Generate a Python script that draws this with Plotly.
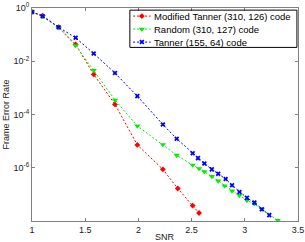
import plotly.graph_objects as go

# Modified Tanner (310,126)
snr_mod = [1.0, 1.10, 1.25, 1.41, 1.58, 1.78, 1.99, 2.23, 2.37, 2.51, 2.57]
fer_mod = [7.1e-1, 5.2e-1, 1.9e-1, 4.3e-2, 3.2e-3, 2.4e-4, 7.2e-6, 8.7e-7, 1.66e-7, 3.8e-8, 2.0e-8]

# Random (310,127)
snr_rnd = [1.0, 1.10, 1.25, 1.41, 1.58, 1.78, 1.99, 2.23, 2.36, 2.51, 2.57, 2.62, 2.69, 2.75,
           2.81, 2.88, 2.95, 3.02, 3.09, 3.16, 3.31]
fer_rnd = [7.1e-1, 4.8e-1, 1.85e-1, 3.9e-2, 4.5e-3, 3.5e-4, 3.7e-5, 7.4e-6, 2.95e-6, 1.26e-6,
           9.3e-7, 7.1e-7, 4.7e-7, 3.2e-7, 2.1e-7, 1.35e-7, 9.1e-8, 5.9e-8, 4.4e-8, 2.8e-8, 1.05e-8]

# Tanner (155,64)
snr_tan = [1.0, 1.10, 1.25, 1.41, 1.58, 1.78, 1.99, 2.23, 2.36, 2.51, 2.56, 2.62, 2.69, 2.75,
           2.82, 2.88, 2.95, 3.02, 3.09, 3.16, 3.23]
fer_tan = [7.1e-1, 4.9e-1, 1.9e-1, 7.6e-2, 1.95e-2, 3.6e-3, 4.9e-4, 4.2e-5, 1.23e-5, 3.5e-6,
           2.3e-6, 1.45e-6, 8.7e-7, 5.9e-7, 3.8e-7, 2.2e-7, 1.23e-7, 7.4e-8, 4.9e-8, 2.75e-8, 1.66e-8]

names = ["Modified Tanner (310, 126) code", "Random (310, 127) code", "Tanner (155, 64) code"]
colors = ["#ff0000", "#00ee00", "#0000ff"]
symbols = ["diamond", "triangle-down", "x"]
msizes = [4.5, 5.5, 4.5]
xtick_vals = [1, 1.5, 2, 2.5, 3, 3.5]
ytick_vals = [1, 1e-2, 1e-4, 1e-6]
ytick_text = ["10<sup>0</sup>", "10<sup>-2</sup>", "10<sup>-4</sup>", "10<sup>-6</sup>"]

FONT = "Liberation Sans"
DASH = "2px,2px"
fig = go.Figure()
series = [(snr_mod, fer_mod), (snr_rnd, fer_rnd), (snr_tan, fer_tan)]
for (xs, ys), nm, c, s, ms in zip(series, names, colors, symbols, msizes):
    fig.add_trace(go.Scatter(x=xs, y=ys, name=nm, mode="lines+markers", showlegend=False,
                             line=dict(color=c, width=1, dash=DASH),
                             marker=dict(symbol=s, size=ms, color=c)))

# custom compact legend (matlab style) on an overlay axis in [0,1] units
leg_rows = [0.962, 0.901, 0.840]
lx0, lx1, ltext = 0.380, 0.446, 0.452
for i, (nm, c, s, ms) in enumerate(zip(names, colors, symbols, msizes)):
    fig.add_trace(go.Scatter(x=[lx0, lx1], y=[leg_rows[i]] * 2, mode="lines", showlegend=False,
                             xaxis="x2", yaxis="y2", hoverinfo="skip",
                             line=dict(color=c, width=1, dash=DASH)))
    fig.add_trace(go.Scatter(x=[(lx0 + lx1) / 2], y=[leg_rows[i]], mode="markers", showlegend=False,
                             xaxis="x2", yaxis="y2", hoverinfo="skip",
                             marker=dict(symbol=s, size=ms, color=c)))
    fig.add_annotation(x=ltext, y=leg_rows[i], xref="paper", yref="paper", text=nm,
                       showarrow=False, xanchor="left", yanchor="middle",
                       font=dict(family=FONT, size=9.5, color="#000000"))
fig.add_shape(type="rect", xref="paper", yref="paper", x0=0.368, x1=0.996, y0=0.815, y1=0.99,
              line=dict(color="#000000", width=1), fillcolor="rgba(0,0,0,0)", layer="above")

axis_common = dict(showline=True, linecolor="#808080", linewidth=1, mirror="ticks",
                   ticks="inside", ticklen=3, tickcolor="#808080", showgrid=False,
                   zeroline=False, automargin=False,
                   tickfont=dict(family=FONT, size=9, color="#222222"))

fig.update_xaxes(range=[1, 3.5], tickvals=xtick_vals, ticktext=[str(v) for v in xtick_vals],
                 **axis_common)
fig.update_yaxes(type="log", range=[-8, 0], tickvals=ytick_vals, ticktext=ytick_text,
                 **axis_common)

fig.add_annotation(x=0.5, y=-0.075, xref="paper", yref="paper", text="SNR", showarrow=False,
                   xanchor="center", yanchor="middle", font=dict(family=FONT, size=9, color="#222222"))
fig.add_annotation(x=-0.098, y=0.5, xref="paper", yref="paper", text="Frame Error Rate",
                   showarrow=False, textangle=-90, xanchor="center", yanchor="middle",
                   font=dict(family=FONT, size=9, color="#222222"))

fig.update_layout(
    width=305, height=242,
    margin=dict(l=32, r=7, t=8, b=21, autoexpand=False),
    paper_bgcolor="white", plot_bgcolor="white",
    showlegend=False,
    xaxis2=dict(overlaying="x", range=[0, 1], visible=False, fixedrange=True),
    yaxis2=dict(overlaying="y", range=[0, 1], visible=False, fixedrange=True),
)

fig.write_html("out.html", config={"displayModeBar": False},
               post_script="document.body.style.margin='0px';document.body.style.overflow='hidden';")
